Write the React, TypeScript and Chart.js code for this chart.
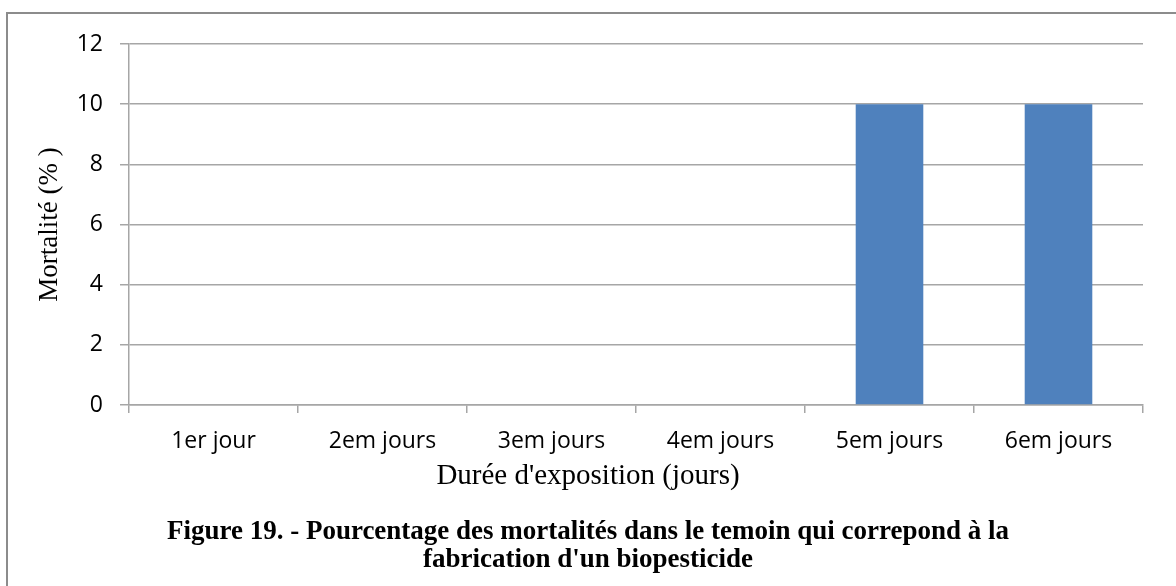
import React, { useEffect, useRef } from "react";
import { Chart, registerables } from "chart.js";

Chart.register(...registerables);

const categories = ["1er jour", "2em jours", "3em jours", "4em jours", "5em jours", "6em jours"];
const mortalite = [0, 0, 0, 0, 10, 10];
const yTicks = [0, 2, 4, 6, 8, 10, 12];
const yTitle = "Mortalité (% )";
const xTitle = "Durée d'exposition (jours)";
const caption = [
  "Figure 19. - Pourcentage des mortalités dans le temoin qui correpond à la",
  "fabrication d'un biopesticide",
];

const GRID = "#a6a6a6";

export default function App() {
  const ref = useRef<HTMLCanvasElement | null>(null);

  useEffect(() => {
    if (!ref.current) return;
    const chart = new Chart(ref.current, {
      type: "bar",
      data: {
        labels: categories,
        datasets: [
          {
            data: mortalite,
            backgroundColor: "#4F81BD",
            borderWidth: 0,
            barPercentage: 0.4,
            categoryPercentage: 1,
          },
        ],
      },
      options: {
        animation: false,
        responsive: false,
        devicePixelRatio: 1,
        layout: { padding: { top: 44, left: 33, right: 33, bottom: 0 } },
        plugins: {
          legend: { display: false },
          tooltip: { enabled: false },
          title: {
            display: true,
            position: "bottom",
            text: caption,
            color: "#000",
            font: { family: "'Liberation Serif', 'Times New Roman', serif", size: 27, weight: "bold", lineHeight: 28 / 27 },
            padding: { top: 0, bottom: 12 },
          },
          subtitle: {
            display: true,
            position: "bottom",
            text: xTitle,
            color: "#000",
            font: { family: "'Liberation Serif', 'Times New Roman', serif", size: 29, weight: "normal", lineHeight: 1.2 },
            padding: { top: 0, bottom: 24.6 },
          },
        },
        scales: {
          x: {
            offset: true,
            grid: {
              display: true,
              drawOnChartArea: false,
              drawTicks: true,
              tickLength: 8,
              color: GRID,
              lineWidth: 1.5,
              offset: true,
            },
            border: { display: true, color: GRID, width: 1.5 },
            ticks: {
              color: "#000",
              font: { family: "'Open Sans', sans-serif", size: 23 },
              padding: 15,
              maxRotation: 0,
              autoSkip: false,
            },
            afterFit: (scale: any) => {
              scale.height = 53.6;
            },
          },
          y: {
            min: 0,
            max: 12,
            afterBuildTicks: (scale: any) => {
              scale.ticks = yTicks.map((v) => ({ value: v }));
            },
            grid: {
              display: true,
              drawOnChartArea: true,
              drawTicks: true,
              tickLength: 9,
              color: GRID,
              lineWidth: 1.5,
            },
            border: { display: true, color: GRID, width: 1.5 },
            ticks: {
              color: "#000",
              font: { family: "'Open Sans', sans-serif", size: 23 },
              padding: 17,
            },
            title: {
              display: true,
              text: yTitle,
              color: "#000",
              font: { family: "'Liberation Serif', 'Times New Roman', serif", size: 27, weight: "normal", lineHeight: 1.2 },
              padding: { top: 1, bottom: 0 },
            },
            afterFit: (scale: any) => {
              scale.width = 96;
            },
          },
        },
      },
    });
    return () => chart.destroy();
  }, []);

  return (
    <div
      style={{
        position: "fixed",
        left: 0,
        top: 0,
        width: 1176,
        height: 586,
        overflow: "hidden",
        background: "#fff",
      }}
    >
      <div
        style={{
          position: "absolute",
          left: 6,
          top: 12,
          right: -20,
          bottom: -20,
          borderLeft: "2px solid #8c8c8c",
          borderTop: "2px solid #8c8c8c",
        }}
      />
      <canvas
        ref={ref}
        width={1176}
        height={586}
        style={{ position: "absolute", left: 0, top: 0, width: 1176, height: 586 }}
      />
    </div>
  );
}
